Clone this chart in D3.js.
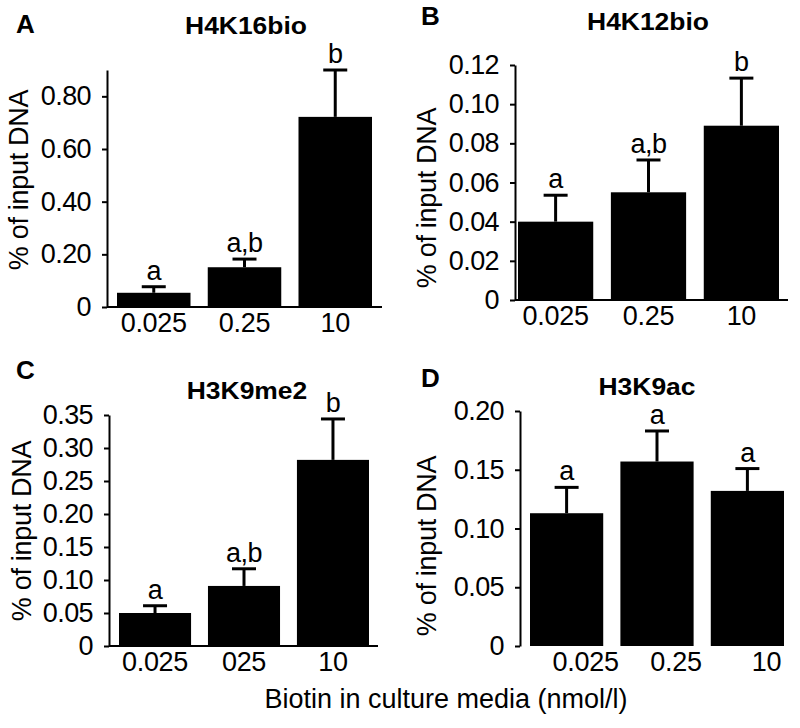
<!DOCTYPE html>
<html>
<head>
<meta charset="utf-8">
<script src="https://cdn.jsdelivr.net/npm/d3@7"></script>
<style>
body { margin: 0; background: #fff; }
svg text { font-family: "Liberation Sans", Arial, sans-serif; fill: #000; }
</style>
</head>
<body>
<svg id="chart" width="800" height="728"></svg>
<script>
// values
const panelLetters = ["A", "B", "C", "D"];
const panelTitles = ["H4K16bio", "H4K12bio", "H3K9me2", "H3K9ac"];
const doseLabels = ["0.025", "0.25", "10"];
const doseLabelsC = ["0.025", "025", "10"];   // as printed in panel C

const meanA = [0.054, 0.151, 0.722];
const errA = [0.023, 0.031, 0.178];
const lettersA = ["a", "a,b", "b"];
const ticksA = [0, 0.2, 0.4, 0.6, 0.8];

const meanB = [0.040, 0.055, 0.089];
const errB = [0.0135, 0.0165, 0.0243];
const lettersB = ["a", "a,b", "b"];
const ticksB = [0, 0.02, 0.04, 0.06, 0.08, 0.10, 0.12];

const meanC = [0.050, 0.091, 0.282];
const errC = [0.011, 0.026, 0.062];
const lettersC = ["a", "a,b", "b"];
const ticksC = [0, 0.05, 0.10, 0.15, 0.20, 0.25, 0.30, 0.35];

const meanD = [0.113, 0.157, 0.132];
const errD = [0.022, 0.026, 0.019];
const lettersD = ["a", "a", "a"];
const ticksD = [0, 0.05, 0.10, 0.15, 0.20];

const xTitle = "Biotin in culture media (nmol/l)";
const yTitle = "% of input DNA";

// layout of each panel
const panels = [
    {cats: doseLabels, mean: meanA, err: errA, letters: lettersA, ticks: ticksA, yMax: 0.9,
     axisX: 107, axisRight: 382, barRange: [117, 372], top: 70, bottom: 307,
     titleX: 246, titleY: 34, letterX: 16, letterY: 33, yLabX: 19, yLabY: 180, xLabShift: 0, xLine: true},
    {cats: doseLabels, mean: meanB, err: errB, letters: lettersB, ticks: ticksB, yMax: 0.12,
     axisX: 515, axisRight: 788, barRange: [518, 779], top: 65, bottom: 300,
     titleX: 648, titleY: 30, letterX: 421, letterY: 25, yLabX: 427, yLabY: 198, xLabShift: 0, xLine: true},
    {cats: doseLabelsC, mean: meanC, err: errC, letters: lettersC, ticks: ticksC, yMax: 0.35,
     axisX: 109, axisRight: 378, barRange: [119, 369], top: 415, bottom: 646,
     titleX: 247, titleY: 399, letterX: 16, letterY: 379, yLabX: 22, yLabY: 531, xLabShift: 0, xLine: true},
    {cats: doseLabels, mean: meanD, err: errD, letters: lettersD, ticks: ticksD, yMax: 0.20,
     axisX: 520, axisRight: 784, barRange: [530, 784], top: 411, bottom: 646,
     titleX: 647, titleY: 395, letterX: 421, letterY: 387, yLabX: 427, yLabY: 546, xLabShift: 19, xLine: false}
];

const svg = d3.select("#chart");
const fmt = d => d === 0 ? "0" : d3.format(".2f")(d);

panels.forEach((p, i) => {
    let g = svg.append("g");

    let x = d3.scaleBand()
        .domain(p.cats)
        .range(p.barRange)
        .paddingInner(0.19)
        .paddingOuter(0);
    let y = d3.scaleLinear()
        .domain([0, p.yMax])
        .range([p.bottom, p.top]);

    // bars
    g.selectAll("rect.bar")
        .data(p.mean)
        .join("rect")
        .attr("class", "bar")
        .attr("x", (d, j) => x(p.cats[j]))
        .attr("y", d => y(d))
        .attr("width", x.bandwidth())
        .attr("height", d => y(0) - y(d))
        .attr("fill", "#000");

    // error bars (upper only)
    let eb = g.selectAll("g.err")
        .data(p.mean)
        .join("g")
        .attr("class", "err")
        .attr("transform", (d, j) => "translate(" + (x(p.cats[j]) + x.bandwidth() / 2) + ",0)");
    eb.append("line")
        .attr("y1", d => y(d))
        .attr("y2", (d, j) => y(d + p.err[j]))
        .attr("stroke", "#000")
        .attr("stroke-width", 3);
    eb.append("line")
        .attr("x1", -12).attr("x2", 12)
        .attr("y1", (d, j) => y(d + p.err[j]))
        .attr("y2", (d, j) => y(d + p.err[j]))
        .attr("stroke", "#000")
        .attr("stroke-width", 3);
    eb.append("text")
        .attr("y", (d, j) => y(d + p.err[j]) - 7)
        .attr("text-anchor", "middle")
        .attr("font-size", 27)
        .attr("letter-spacing", -0.5)
        .text((d, j) => p.letters[j]);

    // y axis
    let yAxis = g.append("g")
        .attr("transform", "translate(" + p.axisX + ",0)")
        .call(d3.axisLeft(y).tickValues(p.ticks).tickFormat(fmt)
            .tickSize(5).tickSizeOuter(0).tickPadding(11));
    yAxis.select(".domain").attr("stroke-width", 2);
    yAxis.selectAll(".tick line").attr("stroke-width", 2);
    yAxis.selectAll(".tick text")
        .attr("font-size", 27)
        .attr("letter-spacing", -0.6)
        .attr("font-family", "Liberation Sans, Arial, sans-serif");

    // x axis line
    if (p.xLine) {
        g.append("line")
            .attr("x1", p.axisX).attr("x2", p.axisRight)
            .attr("y1", y(0)).attr("y2", y(0))
            .attr("stroke", "#000")
            .attr("stroke-width", 2);
    }

    // category labels
    g.selectAll("text.cat")
        .data(p.cats)
        .join("text")
        .attr("class", "cat")
        .attr("x", d => x(d) + x.bandwidth() / 2 + p.xLabShift)
        .attr("y", y(0) + 25)
        .attr("text-anchor", "middle")
        .attr("font-size", 27)
        .attr("letter-spacing", -0.3)
        .text(d => d);

    // titles
    g.append("text")
        .attr("transform", "translate(" + p.titleX + "," + p.titleY + ") scale(1.15,1)")
        .attr("text-anchor", "middle")
        .attr("font-size", 23)
        .attr("font-weight", "bold")
        .text(panelTitles[i]);
    g.append("text")
        .attr("x", p.letterX).attr("y", p.letterY)
        .attr("font-size", 26)
        .attr("font-weight", "bold")
        .text(panelLetters[i]);
    g.append("text")
        .attr("transform", "translate(" + p.yLabX + "," + p.yLabY + ") rotate(-90)")
        .attr("text-anchor", "middle")
        .attr("dy", "0.35em")
        .attr("font-size", 27)
        .attr("letter-spacing", -0.3)
        .text(yTitle);
});

svg.append("text")
    .attr("x", 446).attr("y", 708)
    .attr("text-anchor", "middle")
    .attr("font-size", 27)
    .text(xTitle);
</script>
</body>
</html>
